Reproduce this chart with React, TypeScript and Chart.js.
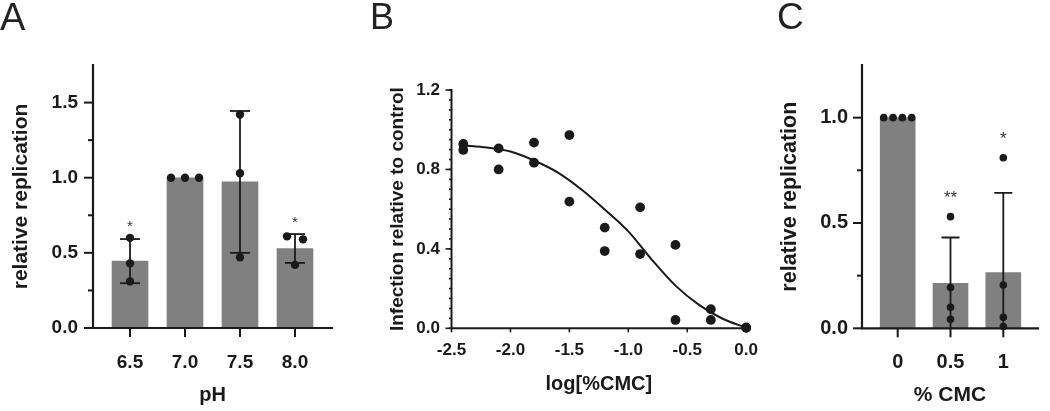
import React, { useEffect, useRef } from 'react';
import { Chart, registerables } from 'chart.js';
Chart.register(...registerables);

// ---------------- Panel A: replication vs pH ----------------
const phLabels = ['6.5', '7.0', '7.5', '8.0'];
const phMeans = [0.445, 1.0, 0.972, 0.529];
const phSD = [0.147, 0, 0.472, 0.096];
const phPoints = [
  [0.6, 0.43, 0.31],
  [1.0, 1.0, 1.0],
  [1.42, 1.03, 0.47],
  [0.61, 0.59, 0.42],
];
const phStars = ['*', '', '', '*'];
const aYTicks = [0, 0.5, 1.0, 1.5];
const aYMinor = [0.25, 0.75, 1.25];

// ---------------- Panel B: dose response ----------------
const cmcLogX = [-2.4, -2.4, -2.1, -2.1, -1.8, -1.8, -1.5, -1.5, -1.2, -1.2, -0.9, -0.9, -0.6, -0.6, -0.3, -0.3, 0.0, 0.0];
const infection = [0.928, 0.898, 0.906, 0.8, 0.935, 0.834, 0.973, 0.638, 0.507, 0.389, 0.609, 0.374, 0.42, 0.042, 0.096, 0.042, 0.004, 0.002];
const fitX = [-2.4, -2.2, -2.0, -1.8, -1.6, -1.4, -1.2, -1.0, -0.8, -0.6, -0.4, -0.2, 0.0];
const fitY = [0.921, 0.91, 0.89, 0.845, 0.785, 0.7, 0.598, 0.488, 0.345, 0.215, 0.118, 0.048, 0.003];
const bXTicks = [-2.5, -2.0, -1.5, -1.0, -0.5, 0.0];
const bYTicks = [0, 0.4, 0.8, 1.2];

// ---------------- Panel C: replication vs % CMC ----------------
const cmcLabels = ['0', '0.5', '1'];
const cmcMeans = [1.0, 0.213, 0.265];
const cmcSD = [0, 0.218, 0.378];
const cmcPoints = [
  [1.0, 1.0, 1.0, 1.0],
  [0.53, 0.194, 0.1, 0.043],
  [0.81, 0.205, 0.052, 0.008],
];
const cmcStars = ['', '**', '*'];
const cYTicks = [0, 0.5, 1.0];
const cYMinor = [0.25, 0.75];

const FONT = '"Liberation Sans", Arial, Helvetica, sans-serif';
const INK = '#1a1a1a';
const BAR = '#808080';
const H = 411;

type MarksCfg = {
  yMajor: number[];
  yMinor: number[];
  xMajor: number[];
  yMajorLen: number;
  yMinorLen: number;
  xMajorLen: number;
  axisWidth: number;
  tickWidth: number;
  axesAfterBars: boolean;
  errors?: { means: number[]; sds: number[]; cap: number; width: number };
  stars?: { marks: string[]; means: number[]; sds: number[]; points: number[][]; gap: number; size: number };
  swarm?: { datasetIndex: number; radius: number };
};

function line(ctx: CanvasRenderingContext2D, x1: number, y1: number, x2: number, y2: number) {
  ctx.beginPath();
  ctx.moveTo(x1, y1);
  ctx.lineTo(x2, y2);
  ctx.stroke();
}

function marksPlugin(cfg: MarksCfg) {
  const drawAxes = (chart: any) => {
    const ctx = chart.ctx as CanvasRenderingContext2D;
    const ca = chart.chartArea;
    const xs = chart.scales.x;
    const ys = chart.scales.y;
    ctx.save();
    ctx.strokeStyle = INK;
    ctx.lineCap = 'butt';
    ctx.lineWidth = cfg.tickWidth;
    cfg.yMajor.forEach((v) => {
      const p = ys.getPixelForValue(v);
      line(ctx, ca.left - cfg.yMajorLen, p, ca.left, p);
    });
    cfg.yMinor.forEach((v) => {
      const p = ys.getPixelForValue(v);
      line(ctx, ca.left - cfg.yMinorLen, p, ca.left, p);
    });
    cfg.xMajor.forEach((v) => {
      const p = xs.getPixelForValue(v);
      line(ctx, p, ca.bottom, p, ca.bottom + cfg.xMajorLen);
    });
    ctx.lineWidth = cfg.axisWidth;
    ctx.lineCap = 'square';
    ctx.beginPath();
    ctx.moveTo(ca.left, ca.top);
    ctx.lineTo(ca.left, ca.bottom);
    ctx.lineTo(ca.right, ca.bottom);
    ctx.stroke();
    ctx.restore();
  };
  return {
    id: 'marks',
    afterDatasetsUpdate(chart: any) {
      if (!cfg.swarm) return;
      const meta = chart.getDatasetMeta(cfg.swarm.datasetIndex);
      const data = chart.data.datasets[cfg.swarm.datasetIndex].data as any[];
      const groups = new Map<number, any[]>();
      meta.data.forEach((el: any, i: number) => {
        const key = data[i].x;
        if (!groups.has(key)) groups.set(key, []);
        groups.get(key)!.push(el);
      });
      const thr = cfg.swarm.radius * 2;
      groups.forEach((els) => {
        els.sort((a, b) => a.y - b.y);
        let cluster: any[] = [];
        const flush = () => {
          const n = cluster.length;
          if (n > 1) {
            const s = Math.min(16, 28 / (n - 1));
            cluster.forEach((el, k) => {
              el.x += (k - (n - 1) / 2) * s;
            });
          }
          cluster = [];
        };
        els.forEach((el) => {
          if (cluster.length && el.y - cluster[cluster.length - 1].y >= thr) flush();
          cluster.push(el);
        });
        flush();
      });
    },
    beforeDatasetsDraw(chart: any) {
      if (!cfg.axesAfterBars) drawAxes(chart);
    },
    afterDatasetDraw(chart: any, args: any) {
      if (args.index !== 0 || !cfg.axesAfterBars) return;
      drawAxes(chart);
      if (!cfg.errors) return;
      const ctx = chart.ctx as CanvasRenderingContext2D;
      const ca = chart.chartArea;
      const xs = chart.scales.x;
      const ys = chart.scales.y;
      const e = cfg.errors;
      ctx.save();
      ctx.beginPath();
      ctx.rect(ca.left - 40, ca.top - 40, ca.right - ca.left + 80, ca.bottom - ca.top + 40);
      ctx.clip();
      ctx.strokeStyle = INK;
      ctx.lineWidth = e.width;
      e.means.forEach((m, i) => {
        const sd = e.sds[i];
        if (!sd) return;
        const px = xs.getPixelForValue(i);
        const t = ys.getPixelForValue(m + sd);
        const b = ys.getPixelForValue(m - sd);
        line(ctx, px, t, px, b);
        line(ctx, px - e.cap / 2, t, px + e.cap / 2, t);
        if (b < ca.bottom - 1) line(ctx, px - e.cap / 2, b, px + e.cap / 2, b);
      });
      ctx.restore();
    },
    afterDraw(chart: any) {
      if (!cfg.stars) return;
      const s = cfg.stars;
      const ctx = chart.ctx as CanvasRenderingContext2D;
      const xs = chart.scales.x;
      const ys = chart.scales.y;
      ctx.save();
      ctx.fillStyle = '#333';
      ctx.font = `${s.size}px ${FONT}`;
      ctx.textAlign = 'center';
      ctx.textBaseline = 'alphabetic';
      s.marks.forEach((mk, i) => {
        if (!mk) return;
        const top = Math.max(s.means[i] + s.sds[i], ...s.points[i]);
        const cy = ys.getPixelForValue(top) - s.gap;
        ctx.fillText(mk, xs.getPixelForValue(i), cy + 0.58 * s.size);
      });
      ctx.restore();
    },
  };
}

type AxisOpts = {
  min: number;
  max: number;
  ticks: number[];
  label: (v: number, i: number) => string;
  fit: number;
  horizontal: boolean;
  size: number;
  pad: number;
  title: string;
  titleSize: number;
  titlePad: number;
};

function axisScale(o: AxisOpts) {
  return {
    type: 'linear',
    min: o.min,
    max: o.max,
    offset: false,
    afterBuildTicks: (s: any) => {
      s.ticks = o.ticks.map((v) => ({ value: v }));
    },
    afterFit: (s: any) => {
      if (o.horizontal) s.height = o.fit;
      else s.width = o.fit;
    },
    grid: { display: false, drawTicks: false },
    border: { display: false },
    ticks: {
      autoSkip: false,
      maxRotation: 0,
      minRotation: 0,
      padding: o.pad,
      color: INK,
      font: { family: FONT, size: o.size, weight: 'bold' },
      callback: (v: number, i: number) => o.label(v, i),
    },
    title: {
      display: true,
      text: o.title,
      color: INK,
      font: { family: FONT, size: o.titleSize, weight: 'bold' },
      padding: o.horizontal ? { top: 0, bottom: o.titlePad } : { top: o.titlePad, bottom: 0 },
    },
  };
}

function baseOptions(padding: any, x: any, y: any) {
  return {
    responsive: false,
    maintainAspectRatio: false,
    animation: false,
    devicePixelRatio: 1,
    layout: { padding },
    plugins: { legend: { display: false }, tooltip: { enabled: false }, title: { display: false } },
    events: [],
    scales: { x, y },
  } as any;
}

function buildA(canvas: HTMLCanvasElement) {
  const pts = phPoints.flatMap((arr, i) => arr.map((v) => ({ x: i, y: v })));
  return new Chart(canvas, {
    type: 'bar',
    data: {
      datasets: [
        {
          type: 'bar',
          data: phMeans.map((m, i) => ({ x: i, y: m })),
          backgroundColor: BAR,
          borderWidth: 0,
          barThickness: 36,
          order: 2,
        } as any,
        {
          type: 'scatter',
          data: pts,
          backgroundColor: INK,
          borderWidth: 0,
          pointRadius: 4.2,
          clip: false,
          order: 1,
        } as any,
      ],
    },
    options: baseOptions(
      { left: 0, right: 18, top: 65, bottom: 0 },
      axisScale({
        min: -0.673, max: 3.673, ticks: [0, 1, 2, 3], label: (_v, i) => phLabels[i],
        fit: 83, horizontal: true, size: 19, pad: 23, title: 'pH', titleSize: 20, titlePad: 4,
      }),
      axisScale({
        min: 0, max: 1.75, ticks: aYTicks, label: (v) => Number(v).toFixed(1),
        fit: 93, horizontal: false, size: 19, pad: 15, title: 'relative replication', titleSize: 21, titlePad: 9,
      })
    ),
    plugins: [
      marksPlugin({
        yMajor: aYTicks, yMinor: aYMinor, xMajor: [0, 1, 2, 3],
        yMajorLen: 9, yMinorLen: 5, xMajorLen: 9, axisWidth: 2.2, tickWidth: 2,
        axesAfterBars: true,
        errors: { means: phMeans, sds: phSD, cap: 20, width: 1.8 },
        stars: { marks: phStars, means: phMeans, sds: phSD, points: phPoints, gap: 15.5, size: 15 },
        swarm: { datasetIndex: 1, radius: 4.2 },
      }) as any,
    ],
  });
}

function buildB(canvas: HTMLCanvasElement) {
  return new Chart(canvas, {
    type: 'scatter',
    data: {
      datasets: [
        {
          type: 'scatter',
          data: cmcLogX.map((x, i) => ({ x, y: infection[i] })),
          backgroundColor: INK,
          borderWidth: 0,
          pointRadius: 4.9,
          clip: false,
          order: 1,
        } as any,
        {
          type: 'line',
          data: fitX.map((x, i) => ({ x, y: fitY[i] })),
          borderColor: INK,
          borderWidth: 2,
          pointRadius: 0,
          fill: false,
          cubicInterpolationMode: 'monotone',
          clip: false,
          order: 2,
        } as any,
      ],
    },
    options: baseOptions(
      { left: 0, right: 23, top: 90, bottom: 0 },
      axisScale({
        min: -2.5, max: 0, ticks: bXTicks, label: (v) => Number(v).toFixed(1),
        fit: 82.7, horizontal: true, size: 17, pad: 12, title: 'log[%CMC]', titleSize: 20, titlePad: 15,
      }),
      axisScale({
        min: 0, max: 1.2, ticks: bYTicks, label: (v) => Number(v).toFixed(1),
        fit: 101.5, horizontal: false, size: 17, pad: 11.5, title: 'Infection relative to control', titleSize: 19, titlePad: 36,
      })
    ),
    plugins: [
      marksPlugin({
        yMajor: bYTicks,
        yMinor: Array.from({ length: 25 }, (_, k) => k * 0.05),
        xMajor: bXTicks,
        yMajorLen: 6, yMinorLen: 2.5, xMajorLen: 4, axisWidth: 2, tickWidth: 1.6,
        axesAfterBars: false,
      }) as any,
    ],
  });
}

function buildC(canvas: HTMLCanvasElement) {
  const pts = cmcPoints.flatMap((arr, i) => arr.map((v) => ({ x: i, y: v })));
  return new Chart(canvas, {
    type: 'bar',
    data: {
      datasets: [
        {
          type: 'bar',
          data: cmcMeans.map((m, i) => ({ x: i, y: m })),
          backgroundColor: BAR,
          borderWidth: 0,
          barThickness: 35,
          order: 2,
        } as any,
        {
          type: 'scatter',
          data: pts,
          backgroundColor: INK,
          borderWidth: 0,
          pointRadius: 3.8,
          clip: false,
          order: 1,
        } as any,
      ],
    },
    options: baseOptions(
      { left: 0, right: 12, top: 65, bottom: 0 },
      axisScale({
        min: -0.676, max: 2.657, ticks: [0, 1, 2], label: (_v, i) => cmcLabels[i],
        fit: 82.7, horizontal: true, size: 20, pad: 22, title: '% CMC', titleSize: 21, titlePad: 3,
      }),
      axisScale({
        min: 0, max: 1.25, ticks: cYTicks, label: (v) => Number(v).toFixed(1),
        fit: 92, horizontal: false, size: 20, pad: 14, title: 'relative replication', titleSize: 21.5, titlePad: 7,
      })
    ),
    plugins: [
      marksPlugin({
        yMajor: cYTicks, yMinor: cYMinor, xMajor: [0, 1, 2],
        yMajorLen: 9, yMinorLen: 5, xMajorLen: 9, axisWidth: 2.2, tickWidth: 2,
        axesAfterBars: true,
        errors: { means: cmcMeans, sds: cmcSD, cap: 18, width: 1.8 },
        stars: { marks: cmcStars, means: cmcMeans, sds: cmcSD, points: cmcPoints, gap: 24, size: 17 },
        swarm: { datasetIndex: 1, radius: 3.8 },
      }) as any,
    ],
  });
}

function Panel({ left, width, build }: { left: number; width: number; build: (c: HTMLCanvasElement) => Chart }) {
  const ref = useRef<HTMLCanvasElement>(null);
  useEffect(() => {
    const chart = build(ref.current as HTMLCanvasElement);
    return () => chart.destroy();
  }, []);
  return (
    <canvas
      ref={ref}
      width={width}
      height={H}
      style={{ position: 'absolute', left, top: 0, width, height: H, display: 'block' }}
    />
  );
}

const letterStyle = (left: number, top: number, size: number): React.CSSProperties => ({
  position: 'absolute',
  left,
  top,
  fontFamily: FONT,
  fontSize: size,
  lineHeight: `${size}px`,
  color: '#222',
  fontWeight: 'normal',
});

export default function App() {
  useEffect(() => {
    document.body.style.margin = '0';
    document.body.style.background = '#ffffff';
  }, []);
  return (
    <div style={{ position: 'relative', width: 1050, height: H, background: '#fff', overflow: 'hidden' }}>
      <Panel left={0} width={350} build={buildA} />
      <Panel left={350} width={420} build={buildB} />
      <Panel left={770} width={280} build={buildC} />
      <div style={letterStyle(0, -2, 38)}>A</div>
      <div style={letterStyle(370, -1, 36)}>B</div>
      <div style={letterStyle(777, -2, 37)}>C</div>
    </div>
  );
}
